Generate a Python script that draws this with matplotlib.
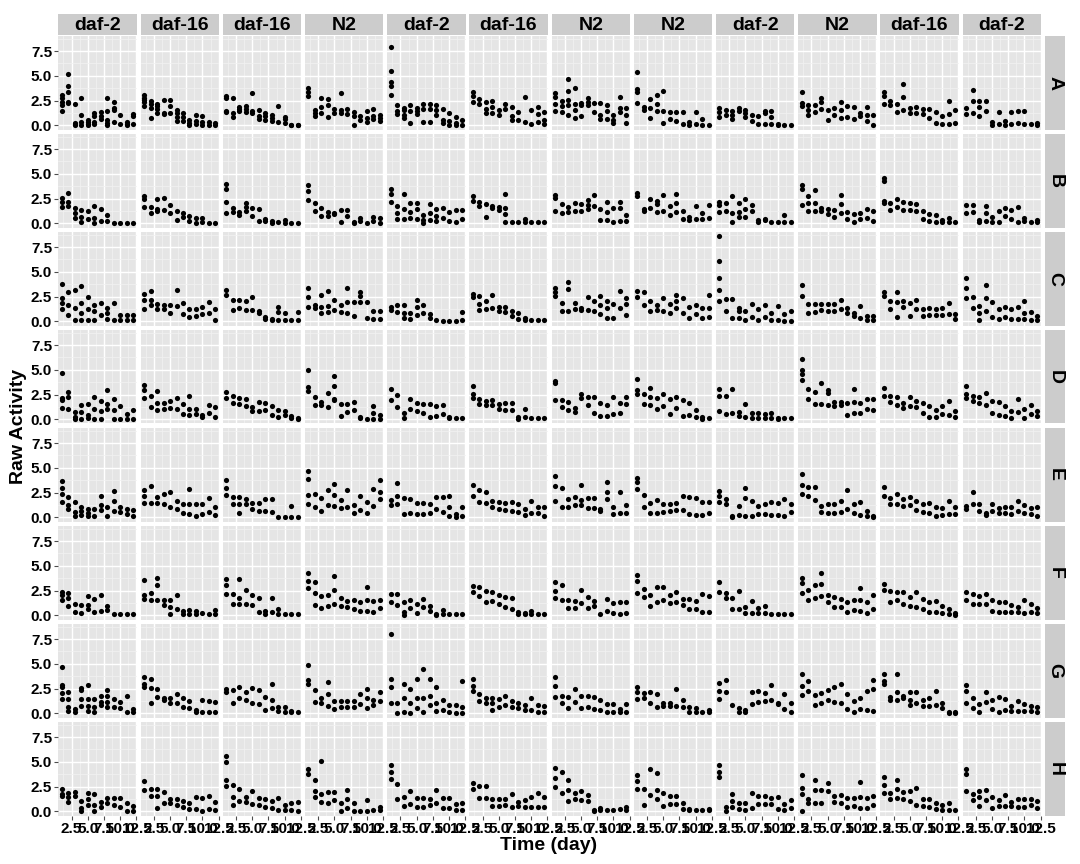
import matplotlib
matplotlib.use("Agg")
import matplotlib.pyplot as plt

plt.rcParams['font.family'] = ['Liberation Sans', 'DejaVu Sans']
plt.rcParams['font.weight'] = 'bold'

# column (strain) labels and row (plate) labels
strains = ["daf-2", "daf-16", "daf-16", "N2", "daf-2", "daf-16",
           "N2", "N2", "daf-2", "N2", "daf-16", "daf-2"]
plates = ["A", "B", "C", "D", "E", "F", "G", "H"]
days = [1, 2, 3, 4, 5, 6, 7, 8, 9, 10, 11, 12]

# raw activity in tenths, one string per panel, days split by "|"
row_A = ["14 20 24 28 31|23 24 34 40 52|0 1 2 22|0 3 10 28|0 1 3 5|1 3 9 12|6 9 13|0 2 5 14 28|3 15 17 24|1 10|0 1 3|1 9 11",
         "19 24 26 28 31|7 17 21 25|12 16 19 22|11 12 26|12 19 26|4 8 12 15|4 8 12|0 2 5|1 4 10|0 3 9|0 3|0 2",
         "13 14 28 30|8 12 28|14 16 18|13 16 19|12 14 33|6 9 15|5 9 12|4 7 10|3 19|2 6 8|0 0|0 0",
         "30 34 38|9 12 15|12 18 28|8 20 27|12 16|12 15 33|11 16|0 9 13|5 9|3 7 14|6 9 16|4 7 10",
         "31 40 44 55 79|11 14 20|7 10 15 17|2 14 20|11 14 17|3 16 22|3 16 21|10 15 20|2 5 16|0 4 12|0 2 8|0 5",
         "24 30 34|21 27|12 16 24|12 18 25|10 15|16 21|5 9 18|5 13|3 29|1 15|3 11 18|1 5 13",
         "14 21 29 33|13 19 25|10 20 26 35 47|7 15 21 38|9 20 23|20 24 28|13 23|6 10 23|6 14 20|2 5 10|13 17 29|2 10 17",
         "23 34 37 54|15 18|7 17 27|14 22 31|2 14 35|6 13|4 13|1 13|0 3|1 13|0 6|0",
         "8 13 17|10 15|6 10 14|14 17|8 12 15|4 10|1 9|1 12 14|1 8 14|0 1|0|0",
         "19 23 34|10 15 20|13 20|16 24 28|5 15|10 17|7 15 24|8 19|6 18|9 12|4 10 18|0 10",
         "22 30 34|20 25|13 21|15 29 42|12 17|12 18|11 16|7 16|2 13|1 9|1 11 25|2 15",
         "11 17|12 25 36|9 18 25|14 25|0 3|1 13|0 4|1 13|2 14|1 14|1|0 2"]
row_B = ["16 21 26|17 22 31|5 10 15|1 6 13|4 12|0 5 17|2 14|2 8|0|0|0|0",
         "16 25 28|10 16|12 14 25|13 26|10 18|3 12|6 10|2 7|0 5|1 5|0|0",
         "10 21 35 40|11 15|8 11|12 16 20|7 15|2 14|2 4|0 2|1|0 3|0|0",
         "24 33 39|12 20|7 15|7 11|9 10|1 13|7 13|0 1|2 5|0|2 6|0 5",
         "21 30 35|4 10 17|4 14 30|5 11 20|4 14 20|0 3 8|3 10 19|2 7 14|5 15|2 11|1 13|4 13",
         "23 28|17 21|6 19|15 17|13 16|1 9 15 30|1|1|1 4|1|1|1",
         "12 26 29|10 19|11 16|12 20|12 19|14 18 24|17 29|3 14|3 11 22|1 15|2 15 21|2 8",
         "28 31|12 14|15 25|11 19 23|12 29|8 17|11 20 30|4 12|3 6|4 17|4 10|5 18",
         "11 18 21|12 20|1 10 28|6 11 20|6 14 25|12 18|1 3|3 4|1|1|1 8|1",
         "18 35 39|12 20 28|12 20 34|12 15|9 14|6 13|10 19 29|4 11|1 9|4 10|5 14|2 12",
         "20 23 43 46|13 20|16 25|13 21|13 20|12 19|4 12|2 9|1 8|1 3|1 5|1",
         "10 18|11 18|1 3|2 10 17|1 6|1 12|7 15|4 13|1 16|2 5|1|1 3"]
row_C = ["12 18 24 38|6 16 30|1 13 32|1 8 18 36|1 12 25|1 10 16|6 18|2 8 13|1 18|1 6|1 6|1 6",
         "12 22 28|16 22 31|12 17|12 16|8 16|15 32|7 18|4 12|5 12|7 14|8 19|1 12",
         "27 32|11 22|13 21|11 20|11 25|8 10|2 4|1 2|1 9 14|1 8|1|1 9",
         "14 25 34|13 16|8 14 27|9 15 31|11 22|9 16|8 19 34|5 19|19 26 30|3 19|2 10|2 10",
         "11 14|9 16|3 8 16|2 8|6 14 22|8 16|3 7|1|0|0|0|1 9",
         "25 28|11 17 26|12 20|13 27|10 14|9 14|5 10|2 8|1 3|1|1|1",
         "26 30 34|10 18|10 33 40|12 18|11 13|11 25|10 20|7 16 26|3 13 20|3 17|13 31|6 17 24",
         "25 31|16 30|10 20|11 16|10 24|8 17|13 20 27|8 24|3 14|7 16|3 13|4 13 27",
         "20 32 44 61 86|10 23|3 23|3 10 13|1 10|4 17|1 12|4 16|1 8|1 15|0 7|0 10",
         "26 37|8 17|9 17|11 17|10 17|10 17|12 21|8 13|5 8|3 15|1 5|1 5",
         "26 30|12 20|4 19 30|14 20|5 18|12 22|5 12|6 13|6 12|6 13|7 18|2 7",
         "24 34 44|13 25|1 8 15|10 24 37|4 19|2 12|4 14|2 12|2 14|2 8 20|1 9|1 5"]
row_D = ["11 19 22 47|10 23 28|0 2 7|0 7 14|1 4 15|0 10 23|0 8 18|10 15 30|0 9 20|0 13|0 5|0 9",
         "22 30 35|12 24|9 16 29|10 16|11 18|10 22|5 15|4 10 24|5 10|2 4|6 14|2 12",
         "22 28|16 24|15 21|13 20|8 12|8 17|9 16|4 13|2 9|4 8|1 3|0 1",
         "29 33 50|14 23|14 17|12 27|19 20 34 44|3 15|7 15|9 17|1 2|0|0 6 13|0 4",
         "19 31|12 25|1 6|10 20|8 16|6 15|2 15|3 13|5 14|1 2|1|1",
         "21 26 34|15 20|14 18|14 19|10 15|9 16|9 16|0 2|2 10|1|1|1",
         "19 37 39|12 19|9 17|7 11|22 26|14 23|6 23|3 16|3 14|5 23|6 16|15 23",
         "26 30 41|15 26|14 23 32|10 21|13 26|5 20|11 23|3 19|4 16|2 9|0 2|1",
         "8 24 31|5 24|6 31|3 7|2 15|1 6|1 6|1 5|1 6|0 1|1|1",
         "40 46 50 61|20 31|15 28|15 37|14 27 30|13 17|14 17|4 16|6 17 31|6 16|10 20|9 20",
         "24 32|17 24|14 23|11 16|13 23|12 18|6 16|2 13|2 9|5 13|4 18|2 8",
         "21 26 34|18 24|16 23|14 27|6 18|4 17|3 13|1 8|7 20|1 10|5 14|3 8"]
row_E = ["15 24 30 37|8 12 20|1 5 15|2 6 10|1 4 8|1 8|7 12 21|1 10|6 16 27|5 10|3 8|1 7",
         "14 22 28|14 32|14 20|13 24|10 26|8 16|4 13|3 13 29|1 13|3 13|5 19|2 10",
         "23 30 38|13 20|4 13 20|13 18|8 14|6 14|6 18|5 18|0|0|0 11|0",
         "13 23 39 47|10 24|6 19|12 28|11 23 34|9 17|10 28|4 12|7 22|4 15|11 29|18 26 38",
         "12 17|13 22 35|3 19|4 18|3 14|3 14|4 13|8 20|5 20|1 10 22|0 3|1 10",
         "22 33|15 28|14 26|10 16|8 15|7 14|6 15|5 13|2 8|4 16|4 10|1 10",
         "16 32 42|10 30|10 18|12 20|12 17 33|9 19|9 19|6 8|18 26 36|3 10|4 26|4 12",
         "29 36 40|10 23|4 14|4 17|5 13|6 13|7 14|7 22|3 20|2 19|2 15|4 15",
         "15 21 27|13 18|0 1|2 11|1 19 30|1 16|3 11|3 13|2 15|2 14|1 18|5 13",
         "24 33 44|21 31|17 31|5 11|4 13|4 13|5 16|8 28|4 13|2 15|1 6|0 1",
         "21 31|13 19|13 24|11 18|12 20|7 16|5 13|4 14|1 10|2 9|3 16|3 10",
         "8 11|13 26|6 13|2 4|6 13|4 9|4 10|3 10|6 16|4 12|3 9|1 10"]
row_F = ["15 20 24|9 17 23|3 11|2 10|6 10 19|3 16|4 20|5 9|1|1|1|1",
         "16 20 36|15 23|15 31 38|10 15|1 8 15|6 20|1 4|1 5|1 4|2|1|1 5",
         "21 31 37|11 22|11 17 37|11 26|10 20|3 17|1 4|3 17|1 6|1|1|1",
         "28 35 43|10 23 34|7 19|9 20|11 26 40|9 17|8 14|6 15|4 13|4 15 29|3 14|7 15",
         "13 22|10 22|0 3 13|7 15|2 11|8 16|4 9|0 1|1 5|1|1|1",
         "24 30|19 29|13 25|14 24|11 20|8 18|6 17|1 3|1 2|1 4|1|1",
         "17 25 34|15 31|7 15|7 14|12 26|7 18|9 14|1|4 16|2 12|1 13|2 13",
         "23 35 41|18 27|9 20|13 29|15 29|12 20|13 24|10 16|6 16|6 14|3 22|3 19",
         "24 34|17 23|6 17|6 25|2 8|2 14|2 7|2 9|1|1|1|1",
         "23 33 38|15 26|17 31|19 32 43|13 20|8 18|8 16|3 13|5 15|4 15 28|2 13|6 20",
         "26 32|13 25|15 24|11 24|9 18|8 24|6 16|3 13|3 14|2 9|1 6|0 2",
         "15 24|11 22|11 19|11 22|4 15|3 13|3 13|3 10|3 8|2 15|3 11|2 7"]
row_G = ["14 20 27 29 47|2 6 14 22|1 4|7 14 24 26|2 7 14 29|1 6 14|8 11 17|6 11 17 24|6 14|5 11|1 17|1 4",
         "27 30 37|10 26 35|16 25|13 15|10 15|10 19|6 15|5 12|1 3|1 13|1 12|1 11",
         "22 25|10 24|15 27|13 22|10 26|9 24|3 16|5 13 30|2 6|1 6|1 2|1",
         "30 34 49|11 24|10 15|7 19 32|4 12|6 12|6 12|6 12|9 19|5 15 25|8 13|12 21",
         "10 27 35 80|0 10|1 15 30|0 10 25|5 15 35|1 15 45|8 17 35|2 10 27|3 13|1 8|0 8|0 6 33",
         "23 28 35|12 19|10 15|3 10 15|6 14|8 17|6 12|5 10|3 8|3 15|1 8|1 7",
         "16 28 37|10 17|5 16|11 25|5 17|6 17|4 16|3 13|1 9|1 9|1 4|1 9",
         "14 22 27|15 20|10 21|6 19|7 10|7 10|7 25|6 13|1 6|1 5|1|1 3",
         "14 23 31|22 34|8|1 5|1 3|9 22|11 23|12 20|13 29|9 10|4 19|1 10",
         "18 28 40|23 33|8 18|10 20|13 24|11 27|10 30|4 19|1 12|4 15|3 23|2 25 34",
         "30 33 40|13 16|13 22 40|15 17|8 13 22|10 21|7 13|7 15|8 23|5 10|0 1|0 1",
         "10 23 29|5 15|1 9|11 21|4 13|1 16|3 14|2 7|2 12|2 9|2 7|1 6"]
row_H = ["15 17 23|9 14 18|15 19|0 3 10|6 12 18|0 6 17|4 9|8 13|6 13|4 13|0 8|0 5",
         "22 31|15 23|3 15 23|8 19|8 12|6 12|4 10|2 8|2 14|0 13|2 15|1 9",
         "26 32 50 56|6 14 27|10 23|9 14|7 20|6 13|4 12|3 10|1 13|1 6|1 8|0 9",
         "38 43|14 20 32|9 17 51|8 19|11 19|0 8|3 12 21|0 8|0|0 11|1|1 4",
         "33 40 47|12 28|5 14|7 20|4 13|4 13|6 12|8 21|3 13|3 13|1 7|1 8",
         "23 29|13 26|13 26|5 12|5 12|6 12|4 17|5 9|4 11|4 14|4 18|4 14",
         "25 34 44|18 40|10 22 32|12 18|11 20|10 16|0 1|1 3|1|1|2|1 4",
         "23 31 37|6 23|16 43|12 22 39|5 18|7 15|7 15|2 8|1 2|1|1|1 2",
         "35 40 47|0 4|4 10 17|2 8|1 8|3 18|7 15|7 15|7 13|2 14|1 7|3 11",
         "0 17 24 37|8 12|8 21 32|8 22|20 29|9 15|8 16|4 13|5 13|3 14 30|3 13|6 15",
         "18 27 35|12 18|13 23 32|12 19|10 20|6 24|5 12|4 12|2 8|1 6|1 8|1",
         "20 38 43|11 17|5 14 20|11 22|3 14|5 11|5 16|5 9|4 12|4 12|6 12|3 10"]
grid_rows = [row_A, row_B, row_C, row_D, row_E, row_F, row_G, row_H]


def parse(panel):
    xs, ys = [], []
    for d, grp in zip(days, panel.split("|")):
        for v in grp.split():
            xs.append(d)
            ys.append(int(v) / 10)
    return xs, ys


W, H = 1080, 864
fig = plt.figure(figsize=(W / 100, H / 100), dpi=100)


def ax_at(x, y, w, h):
    return fig.add_axes([x / W, 1 - (y + h) / H, w / W, h / H])


left, pitch, pw = 58.3, 82.2, 78.5
top, rpitch, ph = 36, 98, 93.5
bg, strip_bg = "#E5E5E5", "#CCCCCC"
last = len(grid_rows) - 1

for r, row in enumerate(grid_rows):
    for c, panel in enumerate(row):
        ax = ax_at(left + pitch * c, top + rpitch * r, pw, ph)
        ax.set_facecolor(bg)
        xs, ys = parse(panel)
        ax.scatter(xs, ys, s=14, c="black", linewidths=0, zorder=3)
        ax.set_xlim(0.45, 12.55)
        ax.set_ylim(-0.43, 9.03)
        ax.set_xticks([2.5, 5.0, 7.5, 10.0, 12.5])
        ax.set_xticks([1.25, 3.75, 6.25, 8.75, 11.25], minor=True)
        ax.set_yticks([0.0, 2.5, 5.0, 7.5])
        ax.set_yticks([1.25, 3.75, 6.25, 8.75], minor=True)
        ax.grid(which="major", color="white", lw=1.0)
        ax.grid(which="minor", color="#F2F2F2", lw=0.5)
        ax.set_axisbelow(True)
        for s in ax.spines.values():
            s.set_visible(False)
        ax.tick_params(which="minor", length=0)
        ax.tick_params(which="major", color="#4D4D4D", labelsize=11,
                       labelcolor="black", pad=1.5)
        ax.tick_params(axis="x", length=3 if r == last else 0,
                       labelbottom=(r == last))
        ax.tick_params(axis="y", length=3 if c == 0 else 0,
                       labelleft=(c == 0))
        if c == 0:
            ax.set_yticklabels(["0.0", "2.5", "5.0", "7.5"], fontweight="bold")
        if r == last:
            ax.set_xticklabels(["2.5", "5.0", "7.5", "10.0", "12.5"], fontweight="bold")

    # plate strip on the right
    sa = ax_at(1045, top + rpitch * r, 20, ph)
    sa.set_facecolor(strip_bg)
    sa.set_xticks([])
    sa.set_yticks([])
    for s in sa.spines.values():
        s.set_visible(False)
    sa.text(0.5, 0.5, plates[r], rotation=-90, ha="center", va="center",
            fontsize=14, fontweight="bold", transform=sa.transAxes)

for c, name in enumerate(strains):
    sa = ax_at(left + pitch * c, 14, pw, 21)
    sa.set_facecolor(strip_bg)
    sa.set_xticks([])
    sa.set_yticks([])
    for s in sa.spines.values():
        s.set_visible(False)
    sa.text(0.5, 0.45, name, ha="center", va="center", fontsize=14,
            fontweight="bold", transform=sa.transAxes)

fig.text(549 / W, 1 - 845 / H, "Time (day)", ha="center", va="center",
         fontsize=14, fontweight="bold")
fig.text(19 / W, 1 - 426 / H, "Raw Activity", ha="center", va="center",
         rotation=90, fontsize=14, fontweight="bold")

fig.savefig("out.png", dpi=100)
